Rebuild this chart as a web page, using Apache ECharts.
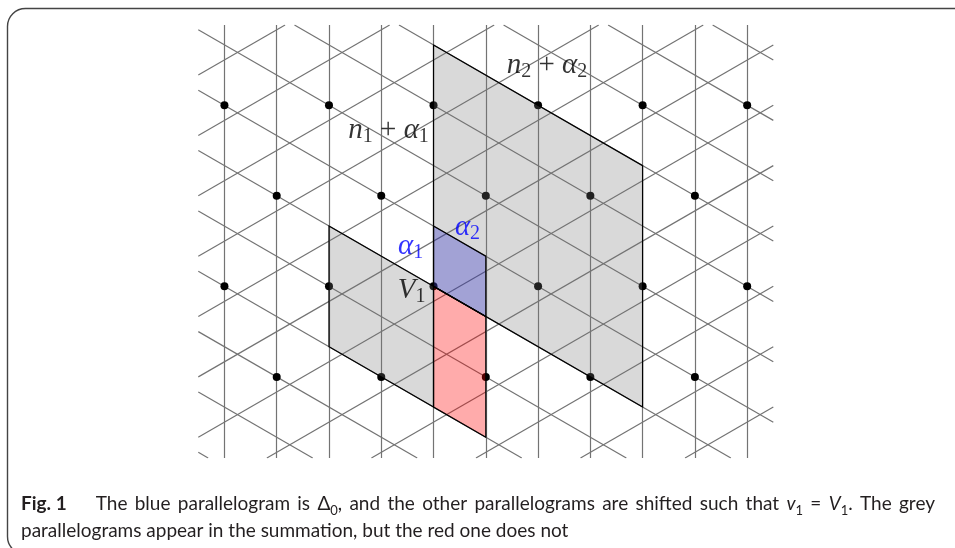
<!DOCTYPE html>
<html>
<head>
<meta charset="utf-8">
<script src="https://cdn.jsdelivr.net/npm/echarts@6/dist/echarts.min.js"></script>
<style>
html,body{margin:0;padding:0;background:#fff;}
#c{width:955px;height:548px;}
</style>
</head>
<body>
<div id="c"></div>
<script>
// ---------------- data ----------------
// grid line families, offsets along each family's unit normal (lattice units)
const verticalLines = [-4, -3, -2, -1, 0, 1, 2, 3, 4, 5, 6];
const fallingLines  = [-5, -4, -3, -2, -1, 0, 1, 2, 3, 4, 5, 6, 7];
const risingLines   = [-5.25, -4.25, -3.25, -2.25, -1.25, -0.25, 0.75, 1.75, 2.75, 3.75, 4.75, 5.75];
// lattice points, one array per row (row k lies at height k·√3)
const dotRow2  = [-4, -2, 0, 2, 4, 6];
const dotRow1  = [-3, -1, 1, 3, 5];
const dotRow0  = [-4, -2, 0, 2, 4, 6];
const dotRowM1 = [-3, -1, 1, 3, 5];
// parallelograms at V1: sides u, v given as coefficients [a, b] of a·α1 + b·α2
const parallelogramNames = ['grey n', 'grey small', 'red', 'blue Δ0'];
const parallelogramU = [[4, 0], [-2, 0], [0, 1], [1, 0]];
const parallelogramV = [[0, 4], [0, -2], [-2, 0], [0, 1]];
// annotations
const labelTexts = ['n2', 'n1', 'a1', 'a2', 'V1'];
const labelX = [2.17, -0.86, -0.44, 0.65, -0.42];
const labelY = [4.22, 2.98, 0.76, 1.12, -0.08];
// caption
const captionLine1 = ['The', 'blue', 'parallelogram', 'is', 'Δ{s|0},', 'and', 'the', 'other', 'parallelograms', 'are',
  'shifted', 'such', 'that', '{i|v}{s|1}', '=', '{i|V}{s|1}.', 'The', 'grey'];
const captionLine2 = 'parallelograms appear in the summation, but the red one does not';

// ---------------- geometry helpers ----------------
const S3 = Math.sqrt(3);
const X_MIN = -4.5, X_MAX = 6.5, Y_MIN = -3.284, Y_MAX = 5;
const e1 = [0, 2 / S3], e2 = [1, -1 / S3];
function vec(c) { return [c[0] * e1[0] + c[1] * e2[0], c[0] * e1[1] + c[1] * e2[1]]; }

function clipLine(nx, ny, c) {
  const p0 = [nx * c, ny * c], d = [-ny, nx];
  let t0 = -1e9, t1 = 1e9;
  const lim = [[0, X_MIN, X_MAX], [1, Y_MIN, Y_MAX]];
  for (const [k, lo, hi] of lim) {
    if (Math.abs(d[k]) < 1e-12) { if (p0[k] < lo || p0[k] > hi) return null; continue; }
    let a = (lo - p0[k]) / d[k], b = (hi - p0[k]) / d[k];
    if (a > b) { const t = a; a = b; b = t; }
    t0 = Math.max(t0, a); t1 = Math.min(t1, b);
  }
  if (t0 >= t1) return null;
  return [[p0[0] + t0 * d[0], p0[1] + t0 * d[1]], [p0[0] + t1 * d[0], p0[1] + t1 * d[1]]];
}

const gridSegments = [];
verticalLines.forEach(c => { const s = clipLine(1, 0, c); if (s) gridSegments.push({ coords: s }); });
fallingLines.forEach(c => { const s = clipLine(0.5, S3 / 2, c); if (s) gridSegments.push({ coords: s }); });
risingLines.forEach(c => { const s = clipLine(-0.5, S3 / 2, c); if (s) gridSegments.push({ coords: s }); });

const dots = [];
[[dotRow2, 2], [dotRow1, 1], [dotRow0, 0], [dotRowM1, -1]].forEach(([xs, k]) => {
  xs.forEach(x => dots.push([x, k * S3]));
});

function corners(i) {
  const u = vec(parallelogramU[i]), v = vec(parallelogramV[i]);
  return [[0, 0], u, [u[0] + v[0], u[1] + v[1]], v];
}
const fillColors = ['rgba(120,120,120,0.28)', 'rgba(120,120,120,0.28)', 'rgba(255,0,0,0.33)', 'rgba(0,0,204,0.25)'];

const serif = "'Liberation Serif', 'DejaVu Serif', serif";
const FS = 29, SUB = 20;
function mathRich(color) {
  return {
    it: { fontFamily: serif, fontStyle: 'italic', fontSize: FS, lineHeight: 32, color: color },
    rm: { fontFamily: serif, fontSize: FS, lineHeight: 32, color: color },
    sub: { fontFamily: serif, fontSize: SUB, lineHeight: 20, verticalAlign: 'bottom', color: color }
  };
}
const labelFormat = {
  n2: '{it|n}{sub|2}{rm| + }{it|α}{sub|2}',
  n1: '{it|n}{sub|1}{rm| + }{it|α}{sub|1}',
  a1: '{it|α}{sub|1}',
  a2: '{it|α}{sub|2}',
  V1: '{it|V}{sub|1}'
};
const labelColor = { n2: '#000', n1: '#000', a1: '#0000ff', a2: '#0000ff', V1: '#000' };
const labelData = labelTexts.map((t, i) => ({
  value: [labelX[i], labelY[i]],
  label: { formatter: labelFormat[t], rich: mathRich(labelColor[t]) }
}));

// ---------------- chart ----------------
const chart = echarts.init(document.getElementById('c'), null, { renderer: 'canvas' });
const sans = "Lato, 'Open Sans', 'Noto Sans', sans-serif";
const CF = 19;
const captionText = '{b|Fig. 1}{g| }' + captionLine1.join('{w| }') + '\n' + captionLine2;
chart.setOption({
  animation: false,
  backgroundColor: '#fff',
  title: {
    left: 21, top: 490, padding: 0,
    text: captionText,
    textStyle: {
      fontFamily: sans, fontSize: CF, fontWeight: 'normal', color: '#231f20', lineHeight: 27,
      rich: {
        b: { fontFamily: sans, fontSize: CF, fontWeight: 'bold', color: '#231f20', lineHeight: 27 },
        i: { fontFamily: sans, fontSize: CF, fontStyle: 'italic', color: '#231f20', lineHeight: 27 },
        s: { fontFamily: sans, fontSize: 13, color: '#231f20', lineHeight: 22, verticalAlign: 'bottom' },
        g: { fontFamily: sans, fontSize: CF, lineHeight: 27, width: 29 },
        w: { fontFamily: sans, fontSize: CF, lineHeight: 27, width: 7.3 }
      }
    }
  },
  graphic: [{
    type: 'rect', silent: true,
    shape: { x: 7.5, y: 8.5, width: 1000, height: 546, r: 18 },
    style: { fill: 'none', stroke: '#444', lineWidth: 1.4 }
  }],
  grid: { left: 198.3, top: 25, width: 575, height: 433 },
  xAxis: { type: 'value', min: X_MIN, max: X_MAX, show: false },
  yAxis: { type: 'value', min: Y_MIN, max: Y_MAX, show: false },
  series: [
    {
      type: 'lines', coordinateSystem: 'cartesian2d', z: 1, silent: true,
      lineStyle: { color: '#737373', width: 1.2, opacity: 1 },
      data: gridSegments
    },
    {
      type: 'scatter', z: 2, symbolSize: 8, silent: true,
      itemStyle: { color: '#000', opacity: 1 },
      data: dots
    },
    {
      type: 'custom', z: 3, silent: true,
      encode: { x: 0, y: 1 },
      data: parallelogramNames.map((n, i) => [i, 0]),
      renderItem: function (params, api) {
        const pts = corners(params.dataIndex).map(q => api.coord(q));
        return { type: 'polygon', shape: { points: pts }, style: { fill: fillColors[params.dataIndex], stroke: null } };
      }
    },
    {
      type: 'custom', z: 4, silent: true,
      encode: { x: 0, y: 1 },
      data: parallelogramNames.map((n, i) => [i, 0]),
      renderItem: function (params, api) {
        const pts = corners(params.dataIndex).map(q => api.coord(q));
        return { type: 'polygon', shape: { points: pts }, style: { fill: 'none', stroke: '#000', lineWidth: 1.2 } };
      }
    },
    {
      type: 'scatter', z: 5, silent: true, symbolSize: 0,
      itemStyle: { color: 'transparent' },
      label: { show: true, position: 'inside', align: 'center', verticalAlign: 'middle' },
      data: labelData
    }
  ]
});
</script>
</body>
</html>
